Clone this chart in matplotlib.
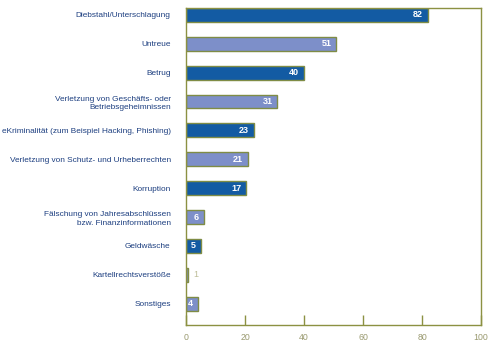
import matplotlib
matplotlib.use("Agg")
import matplotlib.pyplot as plt

categories = [
    "Diebstahl/Unterschlagung",
    "Untreue",
    "Betrug",
    "Verletzung von Geschäfts- oder\nBetriebsgeheimnissen",
    "eKriminalität (zum Beispiel Hacking, Phishing)",
    "Verletzung von Schutz- und Urheberrechten",
    "Korruption",
    "Fälschung von Jahresabschlüssen\nbzw. Finanzinformationen",
    "Geldwäsche",
    "Kartellrechtsverstöße",
    "Sonstiges",
]
# bar lengths as drawn in the picture
values = [82, 51, 40, 31, 23, 21, 20.5, 6, 5, 0.8, 4]
# printed value labels
value_labels = ["82", "51", "40", "31", "23", "21", "17", "6", "5", "1", "4"]
# colour group per bar (d = dark, l = light)
shades = ["d", "l", "d", "l", "d", "l", "d", "l", "d", "l", "l"]
xticks = [0, 20, 40, 60, 80, 100]

dark = "#135ba3"
light = "#7d8fc9"
edge = "#7f8c45"
frame = "#8c9142"
text_blue = "#1d3f80"
tick_col = "#9a9a70"

plt.rcParams["font.family"] = ["Liberation Sans", "DejaVu Sans"]

fig = plt.figure(figsize=(4.92, 3.45), dpi=100)
ax = fig.add_axes([186/492, 1-325/345, (481-186)/492, (325-8)/345])

ys = list(range(len(categories)))
colors = [dark if s == "d" else light for s in shades]
ax.barh(ys, values, height=0.48, color=colors, edgecolor=edge, linewidth=1.0)

for y, v, lab in zip(ys, values, value_labels):
    if v >= 3:
        ax.text(v - 1.6, y, lab, ha="right", va="center", color="white",
                fontsize=6.5, fontweight="bold")
    else:
        ax.text(v + 1.6, y, lab, ha="left", va="center", color="#bdbd98",
                fontsize=6.5)

ax.set_ylim(len(categories) - 1 + 0.74, -0.24)
ax.set_xlim(0, 100)
ax.set_yticks(ys)
ax.set_yticklabels(categories, fontsize=5.95, color=text_blue, linespacing=1.3)
ax.tick_params(axis="y", length=0, pad=11)
ax.set_xticks(xticks)
ax.set_xticklabels([str(t) for t in xticks], fontsize=6.3, color=tick_col)
ax.tick_params(axis="x", direction="in", length=7, width=1, color=frame, pad=6)
for s in ax.spines.values():
    s.set_color(frame)
    s.set_linewidth(1)

fig.savefig("out.png", dpi=100)
